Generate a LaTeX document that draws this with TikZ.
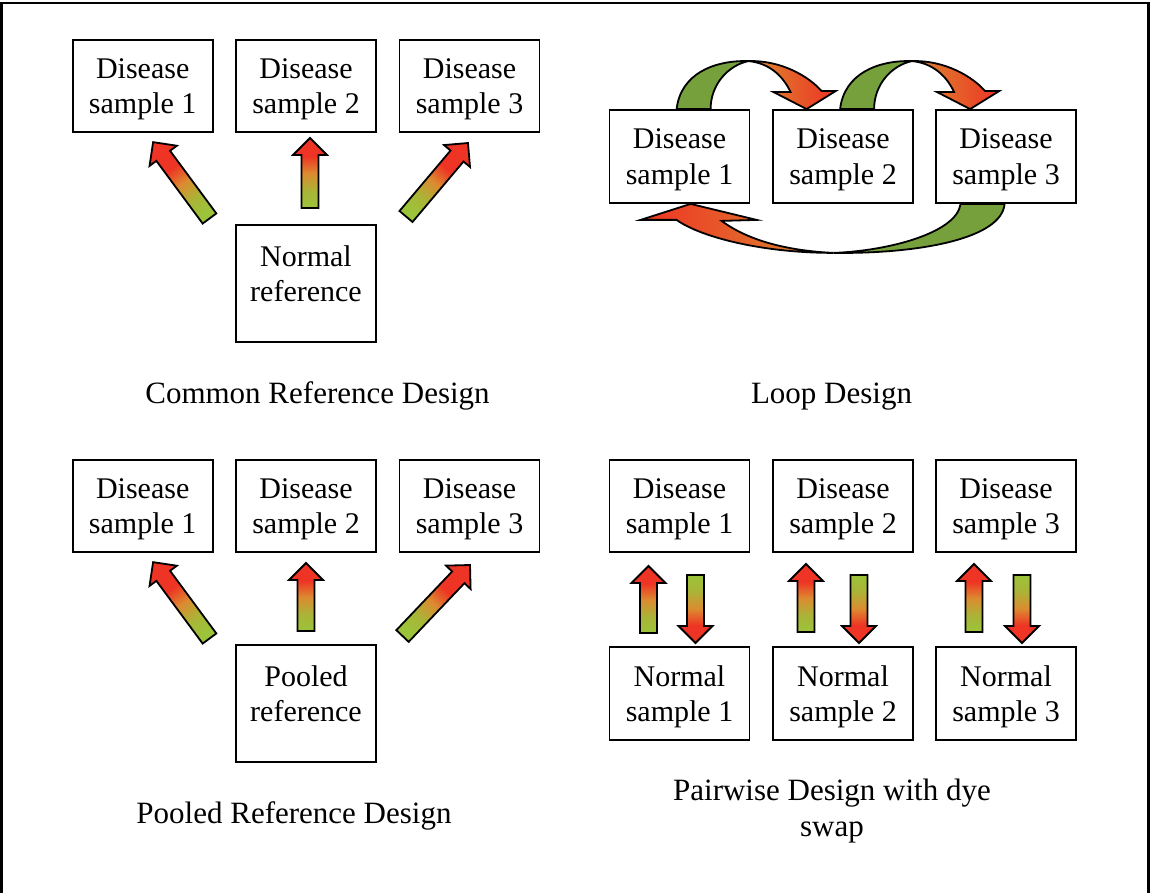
\documentclass[tikz,border=0pt]{standalone}
\usepackage{fontspec}
\setmainfont{Liberation Serif}
\usetikzlibrary{calc,backgrounds}

\definecolor{agreen}{RGB}{155,196,58}
\definecolor{agreenb}{RGB}{170,180,55}
\definecolor{aorange}{RGB}{220,138,48}
\definecolor{ared}{RGB}{238,52,36}
\definecolor{lgreen}{RGB}{118,160,60}

% gradient of the straight block arrows: green tail, orange middle, red head
\pgfdeclareverticalshading{arrowgrad}{100bp}{color(0bp)=(agreen); color(25bp)=(agreen); color(37bp)=(agreenb); color(50bp)=(aorange); color(62bp)=(ared); color(100bp)=(ared)}

\newcommand\dfont{\fontsize{30pt}{35.7pt}\selectfont}
\newcommand\cfont{\fontsize{31pt}{35.7pt}\selectfont}

\tikzset{
  box/.style={draw, line width=1.8pt, minimum width=140pt, minimum height=92pt,
    inner sep=0pt, align=center, font=\dfont, text depth=0pt},
  tallbox/.style={box, minimum height=117pt, text depth=20pt},
  caption/.style={font=\cfont, anchor=base, inner sep=0pt, align=center},
  blockarrow/.style={draw=black, line width=1.8pt, line join=miter, shading=arrowgrad},
  loopback/.style={draw=black, line width=1.8pt, line join=miter, fill=lgreen},
  loopfront/.style={draw=black, line width=1.8pt, line join=miter},
}

% straight gradient block arrow from coordinate #1 (tail) to coordinate #2 (tip)
\newcommand\gradarrow[2]{%
  \path let \p1=($(#2)-(#1)$) in
    \pgfextra{%
      \pgfmathsetmacro\gaang{atan2(\y1,\x1)}%
      \pgfmathsetmacro\galen{veclen(\x1,\y1)}%
      \pgfmathsetmacro\gashade{\gaang-90}%
      \xdef\gaAng{\gaang}\xdef\gaLen{\galen}\xdef\gaShade{\gashade}};
  \begin{scope}[shift={(#1)}, rotate=\gaAng]
    \shade[blockarrow, shading angle=\gaShade]
      (0pt,-8.5pt) -- (\gaLen pt-17pt,-8.5pt) -- (\gaLen pt-17pt,-17pt) -- (\gaLen pt,0pt)
      -- (\gaLen pt-17pt,17pt) -- (\gaLen pt-17pt,8.5pt) -- (0pt,8.5pt) -- cycle;
  \end{scope}}

% curved arrow over the top of two neighbouring boxes
\newcommand\overarc[1]{%
  \begin{scope}[shift={(#1.north west)}]
    \path[loopback] (68,0) .. controls (72,-35) and (105,-49) .. (140,-48)
      .. controls (120,-44) and (102,-25) .. (102,0) -- cycle;
    \path[loopfront, left color=aorange, right color=ared]
      (140,-48) .. controls (172,-49) and (200,-33) .. (213,-18)
      -- (227,-18) -- (198,0) -- (165,-17) -- (182,-17)
      .. controls (174,-34) and (160,-46) .. (140,-48) -- cycle;
  \end{scope}}

\begin{document}
\begin{tikzpicture}[x=1pt, y=-1pt]
\useasboundingbox (0,0) rectangle (1150,893);
\draw[line width=2.7pt, line join=miter] (1.4,900) -- (1.4,3) -- (1148.8,3) -- (1148.8,900);

% ---------------- Common reference design ----------------
\coordinate (ca1t) at (209.5,218.5); \coordinate (ca1h) at (153,142);
\coordinate (ca2t) at (310,208);     \coordinate (ca2h) at (310,138);
\coordinate (ca3t) at (406,216.5);   \coordinate (ca3h) at (468,143);
\gradarrow{ca1t}{ca1h}
\gradarrow{ca2t}{ca2h}
\gradarrow{ca3t}{ca3h}
\node[box] (c1) at (142.7,86) {Disease\\sample 1};
\node[box] (c2) at (306,86) {Disease\\sample 2};
\node[box] (c3) at (469.5,86) {Disease\\sample 3};
\node[tallbox] (cr) at (306,283.5) {Normal\\reference};
\node[caption] (capc) at (317.5,403.5) {Common Reference Design};

% ---------------- Loop design ----------------
\node[box, minimum height=93pt] (l1) at (679.5,156.5) {Disease\\sample 1};
\node[box, minimum height=93pt] (l2) at (843,156.5) {Disease\\sample 2};
\node[box, minimum height=93pt] (l3) at (1006,156.5) {Disease\\sample 3};
\begin{scope}[on background layer]
  \overarc{l1}
  \overarc{l2}
  % return arrow under the boxes, from sample 3 back to sample 1
  \begin{scope}[shift={(l1.south west)}]
    \path[loopback] (396,0) .. controls (393,35) and (310,50) .. (225,49)
      .. controls (280,47) and (348,29) .. (352,0) -- cycle;
    \path[loopfront, left color=ared, right color=aorange]
      (225,49) .. controls (150,49) and (90,32) .. (68,16)
      -- (32,16) -- (82,0) -- (148,16) -- (113,17)
      .. controls (140,37) and (180,47) .. (225,49) -- cycle;
  \end{scope}
\end{scope}
\node[caption] (capl) at (831.5,403.5) {Loop Design};

% ---------------- Pooled reference design ----------------
\coordinate (pa1t) at (209.5,638.5); \coordinate (pa1h) at (153,562);
\coordinate (pa2t) at (306,631);     \coordinate (pa2h) at (306,563);
\coordinate (pa3t) at (402.5,636);   \coordinate (pa3h) at (470,565);
\gradarrow{pa1t}{pa1h}
\gradarrow{pa2t}{pa2h}
\gradarrow{pa3t}{pa3h}
\node[box] (p1) at (142.7,506) {Disease\\sample 1};
\node[box] (p2) at (306,506) {Disease\\sample 2};
\node[box] (p3) at (469.5,506) {Disease\\sample 3};
\node[tallbox] (pr) at (306,703.5) {Pooled\\reference};
\node[caption] (capp) at (294,823.5) {Pooled Reference Design};

% ---------------- Pairwise design with dye swap ----------------
\node[box] (d1) at (679.5,506) {Disease\\sample 1};
\node[box] (d2) at (843,506) {Disease\\sample 2};
\node[box] (d3) at (1006,506) {Disease\\sample 3};
\node[box, minimum height=93pt] (n1) at (679.5,693.5) {Normal\\sample 1};
\node[box, minimum height=93pt] (n2) at (843,693.5) {Normal\\sample 2};
\node[box, minimum height=93pt] (n3) at (1006,693.5) {Normal\\sample 3};
\coordinate (u1t) at (648.5,633); \coordinate (u1h) at (648.5,566);
\coordinate (u2t) at (806,632);   \coordinate (u2h) at (806,564);
\coordinate (u3t) at (974,632);   \coordinate (u3h) at (974,564);
\coordinate (w1t) at (695.5,575); \coordinate (w1h) at (695.5,643);
\coordinate (w2t) at (859,575);   \coordinate (w2h) at (859,643);
\coordinate (w3t) at (1022,575);  \coordinate (w3h) at (1022,643);
\gradarrow{u1t}{u1h} \gradarrow{w1t}{w1h}
\gradarrow{u2t}{u2h} \gradarrow{w2t}{w2h}
\gradarrow{u3t}{u3h} \gradarrow{w3t}{w3h}
\node[caption] (capw) at (832,836.2) {Pairwise Design with dye\\swap};
\end{tikzpicture}
\end{document}
